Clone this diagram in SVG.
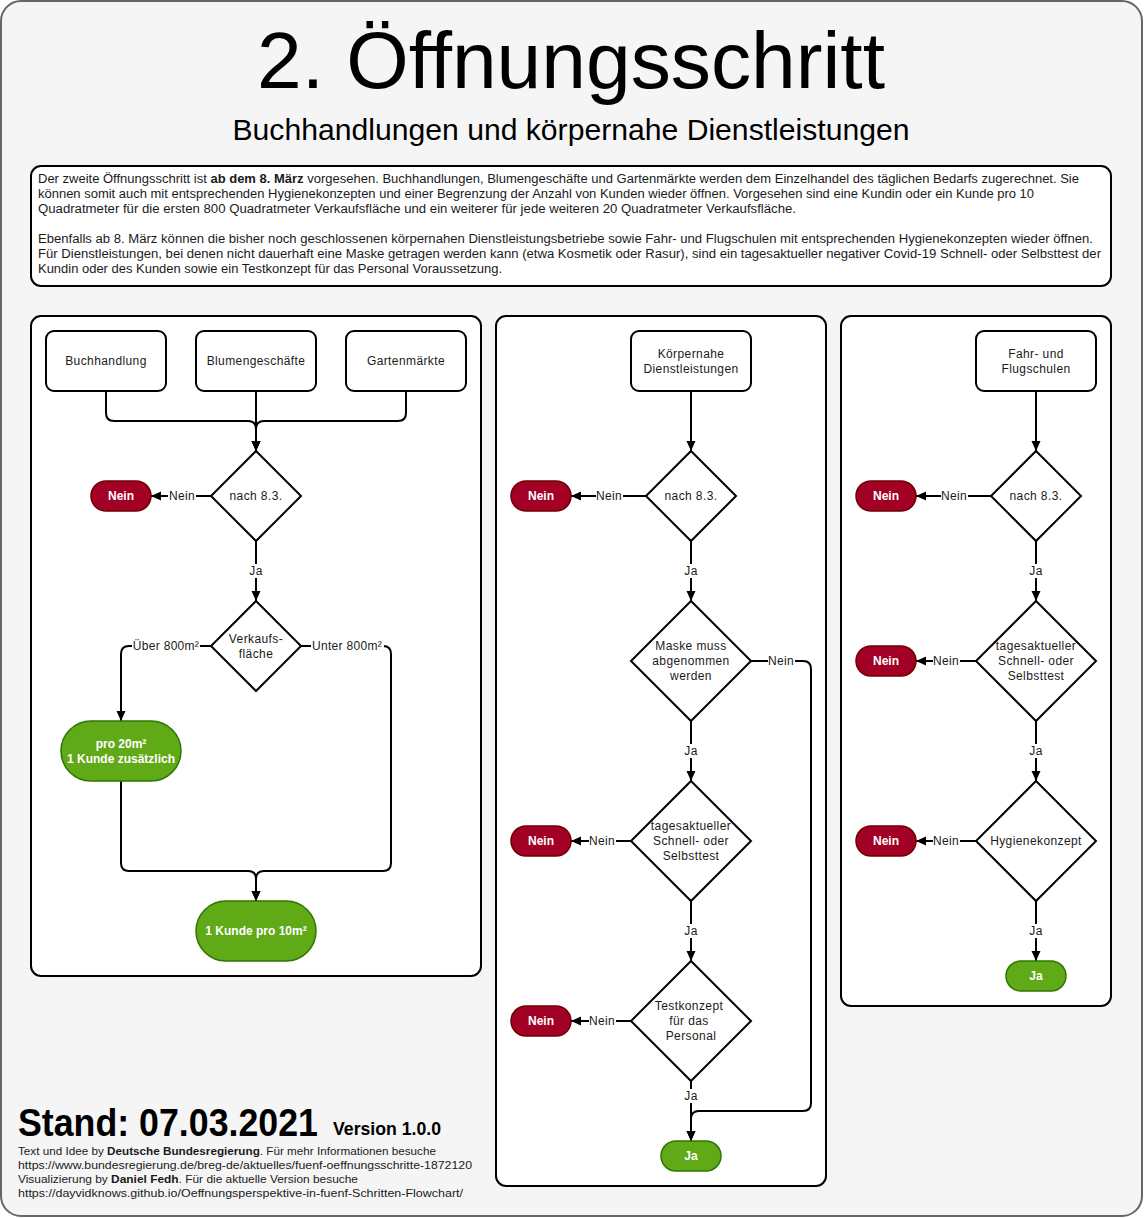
<svg xmlns="http://www.w3.org/2000/svg" width="1144" height="1218" viewBox="0 0 1144 1218">
<style>
text{font-family:"Liberation Sans",Arial,sans-serif;fill:#1a1a1a}
.t{font-size:12px;letter-spacing:0.4px;text-anchor:middle;dominant-baseline:central}
.lbl{font-size:12px;letter-spacing:0.3px;text-anchor:middle;dominant-baseline:central}
.tw{font-size:12px;font-weight:bold;fill:#ffffff;text-anchor:middle;dominant-baseline:central}
.box{fill:#ffffff;stroke:#000000;stroke-width:2}
.panel{fill:#ffffff;stroke:#000000;stroke-width:2}
.dia{fill:#ffffff;stroke:#000000;stroke-width:2;stroke-linejoin:miter}
.red{fill:#A20025;stroke:#6F0000;stroke-width:1.5}
.green{fill:#60A917;stroke:#2D7600;stroke-width:1.5}
.edge{fill:none;stroke:#000000;stroke-width:2;marker-end:url(#arr)}
.bg{fill:#ffffff}
.body{font-size:12px}
.foot{font-size:11px}
</style>
<defs>
<marker id="arr" markerUnits="userSpaceOnUse" markerWidth="10" markerHeight="10" refX="10" refY="5" orient="auto">
<path d="M0,0.5 L10,5 L0,9.5 z" fill="#000000"/>
</marker>
</defs>

<rect x="1" y="1" width="1141" height="1215" rx="20" fill="#F5F5F5" stroke="#666666" stroke-width="2"/>

<g id="title">
<text x="571" y="88" font-size="80" text-anchor="middle" textLength="628" lengthAdjust="spacingAndGlyphs" style="fill:#000">2. Öffnungsschritt</text>
<text x="571" y="140" font-size="29" text-anchor="middle" textLength="677" lengthAdjust="spacingAndGlyphs" style="fill:#000">Buchhandlungen und körpernahe Dienstleistungen</text>
</g>

<g id="description">
<rect x="31" y="166" width="1080" height="120" rx="10" class="box"/>
<text class="body" x="38" y="183" textLength="1041" lengthAdjust="spacingAndGlyphs">Der zweite Öffnungsschritt ist <tspan font-weight="bold">ab dem 8. März</tspan> vorgesehen. Buchhandlungen, Blumengeschäfte und Gartenmärkte werden dem Einzelhandel des täglichen Bedarfs zugerechnet. Sie</text>
<text class="body" x="38" y="198" textLength="996" lengthAdjust="spacingAndGlyphs">können somit auch mit entsprechenden Hygienekonzepten und einer Begrenzung der Anzahl von Kunden wieder öffnen. Vorgesehen sind eine Kundin oder ein Kunde pro 10</text>
<text class="body" x="38" y="213" textLength="758" lengthAdjust="spacingAndGlyphs">Quadratmeter für die ersten 800 Quadratmeter Verkaufsfläche und ein weiterer für jede weiteren 20 Quadratmeter Verkaufsfläche.</text>
<text class="body" x="38" y="243" textLength="1055" lengthAdjust="spacingAndGlyphs">Ebenfalls ab 8. März können die bisher noch geschlossenen körpernahen Dienstleistungsbetriebe sowie Fahr- und Flugschulen mit entsprechenden Hygienekonzepten wieder öffnen.</text>
<text class="body" x="38" y="258" textLength="1063" lengthAdjust="spacingAndGlyphs">Für Dienstleistungen, bei denen nicht dauerhaft eine Maske getragen werden kann (etwa Kosmetik oder Rasur), sind ein tagesaktueller negativer Covid-19 Schnell- oder Selbsttest der</text>
<text class="body" x="38" y="273" textLength="464" lengthAdjust="spacingAndGlyphs">Kundin oder des Kunden sowie ein Testkonzept für das Personal Voraussetzung.</text>
</g>

<g id="panels">
<rect x="31" y="316" width="450" height="660" rx="10" class="panel"/>
<rect x="496" y="316" width="330" height="870" rx="10" class="panel"/>
<rect x="841" y="316" width="270" height="690" rx="10" class="panel"/>
</g>

<g id="connectors">
<path class="edge" d="M106,391 V413 Q106,421 114,421 H248 Q256,421 256,429 V451"/>
<path class="edge" d="M256,391 V451"/>
<path class="edge" d="M406,391 V413 Q406,421 398,421 H264 Q256,421 256,429 V451"/>
<path class="edge" d="M211,496 H151"/>
<path class="edge" d="M256,541 V601"/>
<path class="edge" d="M211,646 H129 Q121,646 121,654 V721"/>
<path class="edge" d="M301,646 H383 Q391,646 391,654 V863 Q391,871 383,871 H264 Q256,871 256,879 V901"/>
<path class="edge" d="M121,781 V863 Q121,871 129,871 H248 Q256,871 256,879 V901"/>

<path class="edge" d="M691,391 V451"/>
<path class="edge" d="M646,496 H571"/>
<path class="edge" d="M691,541 V601"/>
<path class="edge" d="M751,661 H803 Q811,661 811,669 V1103 Q811,1111 803,1111 H699 Q691,1111 691,1119 V1141"/>
<path class="edge" d="M691,721 V781"/>
<path class="edge" d="M631,841 H571"/>
<path class="edge" d="M691,901 V961"/>
<path class="edge" d="M631,1021 H571"/>
<path class="edge" d="M691,1081 V1141"/>

<path class="edge" d="M1036,391 V451"/>
<path class="edge" d="M991,496 H916"/>
<path class="edge" d="M1036,541 V601"/>
<path class="edge" d="M976,661 H916"/>
<path class="edge" d="M1036,721 V781"/>
<path class="edge" d="M976,841 H916"/>
<path class="edge" d="M1036,901 V961"/>

<g id="edge-labels">
<rect class="bg" x="168" y="489" width="28" height="14"/><text class="lbl" x="182" y="496">Nein</text>
<rect class="bg" x="248" y="564" width="16" height="14"/><text class="lbl" x="256" y="571">Ja</text>
<rect class="bg" x="132" y="639" width="68" height="14"/><text class="lbl" x="166" y="646">Über 800m²</text>
<rect class="bg" x="311" y="639" width="73" height="14"/><text class="lbl" x="347" y="646">Unter 800m²</text>

<rect class="bg" x="596" y="489" width="27" height="14"/><text class="lbl" x="609" y="496">Nein</text>
<rect class="bg" x="683" y="564" width="16" height="14"/><text class="lbl" x="691" y="571">Ja</text>
<rect class="bg" x="768" y="654" width="27" height="14"/><text class="lbl" x="781" y="661">Nein</text>
<rect class="bg" x="683" y="744" width="16" height="14"/><text class="lbl" x="691" y="751">Ja</text>
<rect class="bg" x="589" y="834" width="27" height="14"/><text class="lbl" x="602" y="841">Nein</text>
<rect class="bg" x="683" y="924" width="16" height="14"/><text class="lbl" x="691" y="931">Ja</text>
<rect class="bg" x="589" y="1014" width="27" height="14"/><text class="lbl" x="602" y="1021">Nein</text>
<rect class="bg" x="683" y="1089" width="16" height="14"/><text class="lbl" x="691" y="1096">Ja</text>

<rect class="bg" x="941" y="489" width="27" height="14"/><text class="lbl" x="954" y="496">Nein</text>
<rect class="bg" x="1028" y="564" width="16" height="14"/><text class="lbl" x="1036" y="571">Ja</text>
<rect class="bg" x="933" y="654" width="27" height="14"/><text class="lbl" x="946" y="661">Nein</text>
<rect class="bg" x="1028" y="744" width="16" height="14"/><text class="lbl" x="1036" y="751">Ja</text>
<rect class="bg" x="933" y="834" width="27" height="14"/><text class="lbl" x="946" y="841">Nein</text>
<rect class="bg" x="1028" y="924" width="16" height="14"/><text class="lbl" x="1036" y="931">Ja</text>
</g>
</g>

<!-- Left panel nodes -->
<g id="buchhandlung"><rect x="46" y="331" width="120" height="60" rx="8" class="box"/><text class="t" x="106" y="361">Buchhandlung</text></g>
<g id="blumengeschaefte"><rect x="196" y="331" width="120" height="60" rx="8" class="box"/><text class="t" x="256" y="361">Blumengeschäfte</text></g>
<g id="gartenmaerkte"><rect x="346" y="331" width="120" height="60" rx="8" class="box"/><text class="t" x="406" y="361">Gartenmärkte</text></g>
<g id="l-nach83"><path class="dia" d="M256,451 L301,496 L256,541 L211,496 Z"/><text class="t" x="256" y="496">nach 8.3.</text></g>
<g id="l-nein1"><rect x="91" y="481" width="60" height="30" rx="15" class="red"/><text class="tw" x="121" y="496">Nein</text></g>
<g id="l-verkaufsflaeche"><path class="dia" d="M256,601 L301,646 L256,691 L211,646 Z"/><text class="t" x="256" y="639">Verkaufs-</text><text class="t" x="256" y="654">fläche</text></g>
<g id="l-pro20"><rect x="61" y="721" width="120" height="60" rx="30" class="green"/><text class="tw" x="121" y="744">pro 20m²</text><text class="tw" x="121" y="759">1 Kunde zusätzlich</text></g>
<g id="l-pro10"><rect x="196" y="901" width="120" height="60" rx="30" class="green"/><text class="tw" x="256" y="931">1 Kunde pro 10m²</text></g>

<!-- Middle panel nodes -->
<g id="koerpernahe"><rect x="631" y="331" width="120" height="60" rx="8" class="box"/><text class="t" x="691" y="354">Körpernahe</text><text class="t" x="691" y="369">Dienstleistungen</text></g>
<g id="m-nach83"><path class="dia" d="M691,451 L736,496 L691,541 L646,496 Z"/><text class="t" x="691" y="496">nach 8.3.</text></g>
<g id="m-nein1"><rect x="511" y="481" width="60" height="30" rx="15" class="red"/><text class="tw" x="541" y="496">Nein</text></g>
<g id="m-maske"><path class="dia" d="M691,601 L751,661 L691,721 L631,661 Z"/><text class="t" x="691" y="646">Maske muss</text><text class="t" x="691" y="661">abgenommen</text><text class="t" x="691" y="676">werden</text></g>
<g id="m-test"><path class="dia" d="M691,781 L751,841 L691,901 L631,841 Z"/><text class="t" x="691" y="826">tagesaktueller</text><text class="t" x="691" y="841">Schnell- oder</text><text class="t" x="691" y="856">Selbsttest</text></g>
<g id="m-nein2"><rect x="511" y="826" width="60" height="30" rx="15" class="red"/><text class="tw" x="541" y="841">Nein</text></g>
<g id="m-testkonzept"><path class="dia" d="M691,961 L751,1021 L691,1081 L631,1021 Z"/><text class="t" x="689" y="1006">Testkonzept</text><text class="t" x="689" y="1021">für das</text><text class="t" x="691" y="1036">Personal</text></g>
<g id="m-nein3"><rect x="511" y="1006" width="60" height="30" rx="15" class="red"/><text class="tw" x="541" y="1021">Nein</text></g>
<g id="m-ja"><rect x="661" y="1141" width="60" height="30" rx="15" class="green"/><text class="tw" x="691" y="1156">Ja</text></g>

<!-- Right panel nodes -->
<g id="fahrschulen"><rect x="976" y="331" width="120" height="60" rx="8" class="box"/><text class="t" x="1036" y="354">Fahr- und</text><text class="t" x="1036" y="369">Flugschulen</text></g>
<g id="r-nach83"><path class="dia" d="M1036,451 L1081,496 L1036,541 L991,496 Z"/><text class="t" x="1036" y="496">nach 8.3.</text></g>
<g id="r-nein1"><rect x="856" y="481" width="60" height="30" rx="15" class="red"/><text class="tw" x="886" y="496">Nein</text></g>
<g id="r-test"><path class="dia" d="M1036,601 L1096,661 L1036,721 L976,661 Z"/><text class="t" x="1036" y="646">tagesaktueller</text><text class="t" x="1036" y="661">Schnell- oder</text><text class="t" x="1036" y="676">Selbsttest</text></g>
<g id="r-nein2"><rect x="856" y="646" width="60" height="30" rx="15" class="red"/><text class="tw" x="886" y="661">Nein</text></g>
<g id="r-hygiene"><path class="dia" d="M1036,781 L1096,841 L1036,901 L976,841 Z"/><text class="t" x="1036" y="841">Hygienekonzept</text></g>
<g id="r-nein3"><rect x="856" y="826" width="60" height="30" rx="15" class="red"/><text class="tw" x="886" y="841">Nein</text></g>
<g id="r-ja"><rect x="1006" y="961" width="60" height="30" rx="15" class="green"/><text class="tw" x="1036" y="976">Ja</text></g>

<g id="footer">
<text x="18" y="1136" font-size="38" font-weight="bold" textLength="300" lengthAdjust="spacingAndGlyphs" style="fill:#000">Stand: 07.03.2021</text>
<text x="333" y="1135" font-size="18" font-weight="bold" textLength="108" lengthAdjust="spacingAndGlyphs" style="fill:#000">Version 1.0.0</text>
<text class="foot" x="18" y="1155" textLength="418" lengthAdjust="spacingAndGlyphs">Text und Idee by <tspan font-weight="bold">Deutsche Bundesregierung</tspan>. Für mehr Informationen besuche</text>
<text class="foot" x="18" y="1169" textLength="454" lengthAdjust="spacingAndGlyphs">https://www.bundesregierung.de/breg-de/aktuelles/fuenf-oeffnungsschritte-1872120</text>
<text class="foot" x="18" y="1183" textLength="340" lengthAdjust="spacingAndGlyphs">Visualizierung by <tspan font-weight="bold">Daniel Fedh</tspan>. Für die aktuelle Version besuche</text>
<text class="foot" x="18" y="1197" textLength="445" lengthAdjust="spacingAndGlyphs">https://dayvidknows.github.io/Oeffnungsperspektive-in-fuenf-Schritten-Flowchart/</text>
</g>
</svg>
